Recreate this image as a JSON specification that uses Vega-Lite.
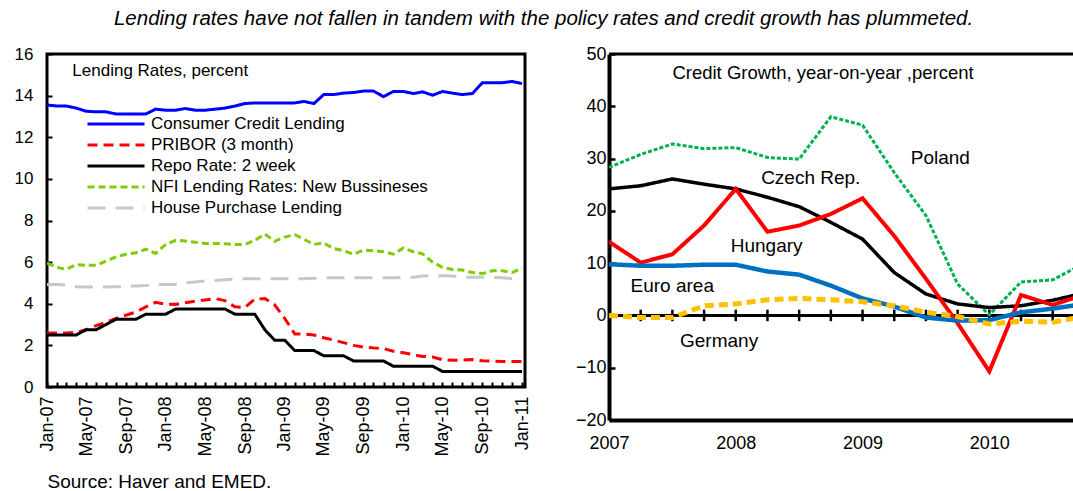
{
  "$schema": "https://vega.github.io/schema/vega-lite/v6.json",
  "background": "white",
  "padding": {"left": 12, "top": 9, "right": 0, "bottom": 0},
  "title": {"text": "Lending rates have not fallen in tandem with the policy rates and credit growth has plummeted.", "fontStyle": "italic", "fontWeight": "normal", "fontSize": 20.5, "font": "Liberation Sans", "anchor": "middle", "offset": 14, "color": "black"},
  "datasets": {
    "rates": [
      {"date":"2007-01-01","Consumer Credit Lending":13.55,"PRIBOR (3 month)":2.6,"Repo Rate: 2 week":2.5,"NFI Lending Rates: New Bussineses":5.95,"House Purchase Lending":4.92},
      {"date":"2007-02-01","Consumer Credit Lending":13.5,"PRIBOR (3 month)":2.6,"Repo Rate: 2 week":2.5,"NFI Lending Rates: New Bussineses":5.75,"House Purchase Lending":4.92},
      {"date":"2007-03-01","Consumer Credit Lending":13.5,"PRIBOR (3 month)":2.6,"Repo Rate: 2 week":2.5,"NFI Lending Rates: New Bussineses":5.65,"House Purchase Lending":4.9},
      {"date":"2007-04-01","Consumer Credit Lending":13.4,"PRIBOR (3 month)":2.62,"Repo Rate: 2 week":2.5,"NFI Lending Rates: New Bussineses":5.88,"House Purchase Lending":4.82},
      {"date":"2007-05-01","Consumer Credit Lending":13.25,"PRIBOR (3 month)":2.75,"Repo Rate: 2 week":2.75,"NFI Lending Rates: New Bussineses":5.85,"House Purchase Lending":4.8},
      {"date":"2007-06-01","Consumer Credit Lending":13.22,"PRIBOR (3 month)":2.95,"Repo Rate: 2 week":2.75,"NFI Lending Rates: New Bussineses":5.85,"House Purchase Lending":4.8},
      {"date":"2007-07-01","Consumer Credit Lending":13.22,"PRIBOR (3 month)":3.1,"Repo Rate: 2 week":3.0,"NFI Lending Rates: New Bussineses":6.05,"House Purchase Lending":4.8},
      {"date":"2007-08-01","Consumer Credit Lending":13.12,"PRIBOR (3 month)":3.3,"Repo Rate: 2 week":3.25,"NFI Lending Rates: New Bussineses":6.25,"House Purchase Lending":4.82},
      {"date":"2007-09-01","Consumer Credit Lending":13.12,"PRIBOR (3 month)":3.45,"Repo Rate: 2 week":3.25,"NFI Lending Rates: New Bussineses":6.38,"House Purchase Lending":4.85},
      {"date":"2007-10-01","Consumer Credit Lending":13.12,"PRIBOR (3 month)":3.6,"Repo Rate: 2 week":3.25,"NFI Lending Rates: New Bussineses":6.45,"House Purchase Lending":4.85},
      {"date":"2007-11-01","Consumer Credit Lending":13.12,"PRIBOR (3 month)":3.85,"Repo Rate: 2 week":3.5,"NFI Lending Rates: New Bussineses":6.62,"House Purchase Lending":4.88},
      {"date":"2007-12-01","Consumer Credit Lending":13.35,"PRIBOR (3 month)":4.07,"Repo Rate: 2 week":3.5,"NFI Lending Rates: New Bussineses":6.42,"House Purchase Lending":4.92},
      {"date":"2008-01-01","Consumer Credit Lending":13.3,"PRIBOR (3 month)":3.98,"Repo Rate: 2 week":3.5,"NFI Lending Rates: New Bussineses":6.85,"House Purchase Lending":4.92},
      {"date":"2008-02-01","Consumer Credit Lending":13.3,"PRIBOR (3 month)":3.97,"Repo Rate: 2 week":3.75,"NFI Lending Rates: New Bussineses":7.05,"House Purchase Lending":4.93},
      {"date":"2008-03-01","Consumer Credit Lending":13.38,"PRIBOR (3 month)":4.05,"Repo Rate: 2 week":3.75,"NFI Lending Rates: New Bussineses":7.02,"House Purchase Lending":5.0},
      {"date":"2008-04-01","Consumer Credit Lending":13.3,"PRIBOR (3 month)":4.12,"Repo Rate: 2 week":3.75,"NFI Lending Rates: New Bussineses":6.95,"House Purchase Lending":5.05},
      {"date":"2008-05-01","Consumer Credit Lending":13.3,"PRIBOR (3 month)":4.18,"Repo Rate: 2 week":3.75,"NFI Lending Rates: New Bussineses":6.9,"House Purchase Lending":5.1},
      {"date":"2008-06-01","Consumer Credit Lending":13.35,"PRIBOR (3 month)":4.25,"Repo Rate: 2 week":3.75,"NFI Lending Rates: New Bussineses":6.9,"House Purchase Lending":5.12},
      {"date":"2008-07-01","Consumer Credit Lending":13.4,"PRIBOR (3 month)":4.15,"Repo Rate: 2 week":3.75,"NFI Lending Rates: New Bussineses":6.88,"House Purchase Lending":5.15},
      {"date":"2008-08-01","Consumer Credit Lending":13.5,"PRIBOR (3 month)":3.85,"Repo Rate: 2 week":3.5,"NFI Lending Rates: New Bussineses":6.85,"House Purchase Lending":5.18},
      {"date":"2008-09-01","Consumer Credit Lending":13.62,"PRIBOR (3 month)":3.82,"Repo Rate: 2 week":3.5,"NFI Lending Rates: New Bussineses":6.85,"House Purchase Lending":5.2},
      {"date":"2008-10-01","Consumer Credit Lending":13.65,"PRIBOR (3 month)":4.22,"Repo Rate: 2 week":3.5,"NFI Lending Rates: New Bussineses":7.05,"House Purchase Lending":5.2},
      {"date":"2008-11-01","Consumer Credit Lending":13.65,"PRIBOR (3 month)":4.25,"Repo Rate: 2 week":2.75,"NFI Lending Rates: New Bussineses":7.35,"House Purchase Lending":5.2},
      {"date":"2008-12-01","Consumer Credit Lending":13.65,"PRIBOR (3 month)":3.95,"Repo Rate: 2 week":2.25,"NFI Lending Rates: New Bussineses":7.0,"House Purchase Lending":5.2},
      {"date":"2009-01-01","Consumer Credit Lending":13.65,"PRIBOR (3 month)":3.3,"Repo Rate: 2 week":2.25,"NFI Lending Rates: New Bussineses":7.2,"House Purchase Lending":5.2},
      {"date":"2009-02-01","Consumer Credit Lending":13.65,"PRIBOR (3 month)":2.55,"Repo Rate: 2 week":1.75,"NFI Lending Rates: New Bussineses":7.32,"House Purchase Lending":5.2},
      {"date":"2009-03-01","Consumer Credit Lending":13.72,"PRIBOR (3 month)":2.55,"Repo Rate: 2 week":1.75,"NFI Lending Rates: New Bussineses":7.1,"House Purchase Lending":5.2},
      {"date":"2009-04-01","Consumer Credit Lending":13.62,"PRIBOR (3 month)":2.5,"Repo Rate: 2 week":1.75,"NFI Lending Rates: New Bussineses":6.85,"House Purchase Lending":5.22},
      {"date":"2009-05-01","Consumer Credit Lending":14.05,"PRIBOR (3 month)":2.37,"Repo Rate: 2 week":1.5,"NFI Lending Rates: New Bussineses":6.92,"House Purchase Lending":5.25},
      {"date":"2009-06-01","Consumer Credit Lending":14.05,"PRIBOR (3 month)":2.25,"Repo Rate: 2 week":1.5,"NFI Lending Rates: New Bussineses":6.65,"House Purchase Lending":5.25},
      {"date":"2009-07-01","Consumer Credit Lending":14.12,"PRIBOR (3 month)":2.13,"Repo Rate: 2 week":1.5,"NFI Lending Rates: New Bussineses":6.55,"House Purchase Lending":5.25},
      {"date":"2009-08-01","Consumer Credit Lending":14.15,"PRIBOR (3 month)":2.0,"Repo Rate: 2 week":1.25,"NFI Lending Rates: New Bussineses":6.38,"House Purchase Lending":5.25},
      {"date":"2009-09-01","Consumer Credit Lending":14.22,"PRIBOR (3 month)":1.92,"Repo Rate: 2 week":1.25,"NFI Lending Rates: New Bussineses":6.58,"House Purchase Lending":5.25},
      {"date":"2009-10-01","Consumer Credit Lending":14.22,"PRIBOR (3 month)":1.88,"Repo Rate: 2 week":1.25,"NFI Lending Rates: New Bussineses":6.55,"House Purchase Lending":5.25},
      {"date":"2009-11-01","Consumer Credit Lending":13.95,"PRIBOR (3 month)":1.85,"Repo Rate: 2 week":1.25,"NFI Lending Rates: New Bussineses":6.5,"House Purchase Lending":5.25},
      {"date":"2009-12-01","Consumer Credit Lending":14.2,"PRIBOR (3 month)":1.72,"Repo Rate: 2 week":1.0,"NFI Lending Rates: New Bussineses":6.38,"House Purchase Lending":5.25},
      {"date":"2010-01-01","Consumer Credit Lending":14.2,"PRIBOR (3 month)":1.65,"Repo Rate: 2 week":1.0,"NFI Lending Rates: New Bussineses":6.68,"House Purchase Lending":5.27},
      {"date":"2010-02-01","Consumer Credit Lending":14.1,"PRIBOR (3 month)":1.55,"Repo Rate: 2 week":1.0,"NFI Lending Rates: New Bussineses":6.5,"House Purchase Lending":5.27},
      {"date":"2010-03-01","Consumer Credit Lending":14.18,"PRIBOR (3 month)":1.47,"Repo Rate: 2 week":1.0,"NFI Lending Rates: New Bussineses":6.4,"House Purchase Lending":5.33},
      {"date":"2010-04-01","Consumer Credit Lending":14.02,"PRIBOR (3 month)":1.44,"Repo Rate: 2 week":1.0,"NFI Lending Rates: New Bussineses":6.0,"House Purchase Lending":5.35},
      {"date":"2010-05-01","Consumer Credit Lending":14.2,"PRIBOR (3 month)":1.31,"Repo Rate: 2 week":0.75,"NFI Lending Rates: New Bussineses":5.75,"House Purchase Lending":5.35},
      {"date":"2010-06-01","Consumer Credit Lending":14.12,"PRIBOR (3 month)":1.28,"Repo Rate: 2 week":0.75,"NFI Lending Rates: New Bussineses":5.65,"House Purchase Lending":5.33},
      {"date":"2010-07-01","Consumer Credit Lending":14.05,"PRIBOR (3 month)":1.29,"Repo Rate: 2 week":0.75,"NFI Lending Rates: New Bussineses":5.62,"House Purchase Lending":5.28},
      {"date":"2010-08-01","Consumer Credit Lending":14.1,"PRIBOR (3 month)":1.32,"Repo Rate: 2 week":0.75,"NFI Lending Rates: New Bussineses":5.5,"House Purchase Lending":5.27},
      {"date":"2010-09-01","Consumer Credit Lending":14.62,"PRIBOR (3 month)":1.26,"Repo Rate: 2 week":0.75,"NFI Lending Rates: New Bussineses":5.45,"House Purchase Lending":5.27},
      {"date":"2010-10-01","Consumer Credit Lending":14.62,"PRIBOR (3 month)":1.24,"Repo Rate: 2 week":0.75,"NFI Lending Rates: New Bussineses":5.58,"House Purchase Lending":5.27},
      {"date":"2010-11-01","Consumer Credit Lending":14.62,"PRIBOR (3 month)":1.23,"Repo Rate: 2 week":0.75,"NFI Lending Rates: New Bussineses":5.58,"House Purchase Lending":5.25},
      {"date":"2010-12-01","Consumer Credit Lending":14.68,"PRIBOR (3 month)":1.22,"Repo Rate: 2 week":0.75,"NFI Lending Rates: New Bussineses":5.5,"House Purchase Lending":5.2},
      {"date":"2011-01-01","Consumer Credit Lending":14.58,"PRIBOR (3 month)":1.22,"Repo Rate: 2 week":0.75,"NFI Lending Rates: New Bussineses":5.7,"House Purchase Lending":5.15}
    ],
    "credit": [
      {"t":2007.0,"Poland":28.3,"Czech":24.2,"Hungary":14.1,"Euro area":9.8,"Germany":0.0},
      {"t":2007.25,"Poland":30.8,"Czech":24.8,"Hungary":10.1,"Euro area":9.5,"Germany":-0.4},
      {"t":2007.5,"Poland":32.8,"Czech":26.1,"Hungary":11.7,"Euro area":9.5,"Germany":-0.4},
      {"t":2007.75,"Poland":31.9,"Czech":25.1,"Hungary":17.2,"Euro area":9.7,"Germany":1.85},
      {"t":2008.0,"Poland":32.1,"Czech":24.2,"Hungary":24.2,"Euro area":9.7,"Germany":2.2},
      {"t":2008.25,"Poland":30.2,"Czech":22.6,"Hungary":16.0,"Euro area":8.4,"Germany":3.0},
      {"t":2008.5,"Poland":29.9,"Czech":20.8,"Hungary":17.2,"Euro area":7.8,"Germany":3.25},
      {"t":2008.75,"Poland":38.0,"Czech":17.8,"Hungary":19.4,"Euro area":5.7,"Germany":3.0},
      {"t":2009.0,"Poland":36.4,"Czech":14.6,"Hungary":22.4,"Euro area":3.25,"Germany":2.6},
      {"t":2009.25,"Poland":27.3,"Czech":8.2,"Hungary":15.2,"Euro area":1.7,"Germany":1.85},
      {"t":2009.5,"Poland":19.1,"Czech":4.1,"Hungary":7.0,"Euro area":-0.4,"Germany":0.6},
      {"t":2009.75,"Poland":6.0,"Czech":2.2,"Hungary":-1.5,"Euro area":-1.0,"Germany":-0.2},
      {"t":2010.0,"Poland":0.1,"Czech":1.5,"Hungary":-10.7,"Euro area":-0.9,"Germany":-1.65},
      {"t":2010.25,"Poland":6.4,"Czech":1.85,"Hungary":3.9,"Euro area":0.6,"Germany":-1.1},
      {"t":2010.5,"Poland":6.8,"Czech":2.9,"Hungary":2.0,"Euro area":1.3,"Germany":-1.3},
      {"t":2010.75,"Poland":10.0,"Czech":4.3,"Hungary":4.0,"Euro area":2.2,"Germany":-0.2}
    ],
    "quarters": [
      {"q":2007.25},{"q":2007.5},{"q":2007.75},{"q":2008.0},{"q":2008.25},{"q":2008.5},{"q":2008.75},
      {"q":2009.0},{"q":2009.25},{"q":2009.5},{"q":2009.75},{"q":2010.0},{"q":2010.25},{"q":2010.5}
    ]
  },
  "spacing": 84,
  "bounds": "flush",
  "resolve": {"scale": {"color": "independent", "strokeDash": "independent", "strokeWidth": "independent"}},
  "hconcat": [
    {
      "width": 478,
      "height": 333,
      "view": {"stroke": "black", "strokeWidth": 3},
      "layer": [
        {
          "data": {"name": "rates"},
          "transform": [{"fold": ["Consumer Credit Lending","PRIBOR (3 month)","Repo Rate: 2 week","NFI Lending Rates: New Bussineses","House Purchase Lending"], "as": ["series","value"]}],
          "mark": {"type": "line", "clip": true, "strokeCap": "butt"},
          "encoding": {
            "x": {"field": "date", "type": "temporal",
                  "scale": {"type": "utc", "domain": [{"year":2007,"month":1,"date":1,"utc":true},{"year":2011,"month":1,"date":10,"utc":true}]},
                  "axis": {"tickCount": {"interval": "month", "step": 1}, "labelExpr": "utcmonth(datum.value) % 4 == 0 ? utcFormat(datum.value, '%b-%y') : ''",
                           "labelAngle": -90, "labelAlign": "right", "labelBaseline": "middle", "labelFontSize": 18, "labelOverlap": false, "labelFlush": false, "labelBound": false,
                           "tickSize": -5, "tickWidth": 2, "domain": false, "labelPadding": 14,
                           "title": "Source: Haver and EMED.", "titleAnchor": "start", "titleAlign": "left", "titleFontSize": 19, "titleFontWeight": "normal", "titlePadding": 16, "titleColor": "black"}},
            "y": {"field": "value", "type": "quantitative", "scale": {"domain": [0, 16], "nice": false},
                  "axis": {"values": [0,2,4,6,8,10,12,14,16], "labelFontSize": 17, "tickSize": -5, "tickWidth": 2, "domain": false, "labelPadding": 19, "title": null}},
            "color": {"field": "series", "type": "nominal",
                      "scale": {"domain": ["Consumer Credit Lending","PRIBOR (3 month)","Repo Rate: 2 week","NFI Lending Rates: New Bussineses","House Purchase Lending"],
                                "range": ["#0000FF","#FF0000","#000000","#7FCC00","#C8C8C8"]},
                      "legend": {"orient": "none", "legendX": 39, "legendY": 62, "title": null, "symbolType": "stroke", "symbolSize": 3249, "symbolStrokeWidth": 3,
                                 "labelFontSize": 17, "labelFont": "Liberation Sans", "labelColor": "black", "clipHeight": 16, "rowPadding": 4, "labelOffset": 5, "padding": 0, "labelLimit": 400}},
            "strokeDash": {"field": "series", "type": "nominal",
                           "scale": {"domain": ["Consumer Credit Lending","PRIBOR (3 month)","Repo Rate: 2 week","NFI Lending Rates: New Bussineses","House Purchase Lending"],
                                     "range": [[1,0],[10,6],[1,0],[7,4],[18,10]]}},
            "strokeWidth": {"field": "series", "type": "nominal",
                            "scale": {"domain": ["Consumer Credit Lending","PRIBOR (3 month)","Repo Rate: 2 week","NFI Lending Rates: New Bussineses","House Purchase Lending"],
                                      "range": [3,3,3,5,4]}}
          }
        },
        {
          "data": {"values": [{}]},
          "mark": {"type": "text", "text": "Lending Rates, percent", "align": "left", "baseline": "middle", "fontSize": 17},
          "encoding": {"x": {"datum": {"year":2007,"month":3,"date":20,"utc":true}, "type": "temporal"}, "y": {"datum": 15.2, "type": "quantitative"}}
        }
      ]
    },
    {
      "width": 464,
      "height": 366,
      "layer": [
        {
          "data": {"values": [{}]},
          "mark": {"type": "rule", "strokeWidth": 3, "color": "black"},
          "encoding": {"y": {"datum": 0, "type": "quantitative"}}
        },
        {
          "data": {"values": [{}]},
          "mark": {"type": "rule", "strokeWidth": 3, "color": "black"},
          "encoding": {"y": {"datum": 50, "type": "quantitative"}}
        },
        {
          "data": {"name": "quarters"},
          "mark": {"type": "rule", "strokeWidth": 2.5, "color": "black"},
          "encoding": {"x": {"field": "q", "type": "quantitative"}, "y": {"datum": -1.1, "type": "quantitative"}, "y2": {"datum": 1.1}}
        },
        {
          "data": {"name": "credit"},
          "transform": [{"fold": ["Poland","Czech","Hungary","Euro area","Germany"], "as": ["country","growth"]}],
          "mark": {"type": "line", "clip": true, "strokeCap": "butt"},
          "encoding": {
            "x": {"field": "t", "type": "quantitative", "scale": {"domain": [2007, 2010.66], "nice": false, "zero": false},
                  "axis": {"values": [2007,2008,2009,2010], "format": "d", "ticks": false, "domainWidth": 4, "labelFontSize": 18, "labelPadding": 14, "labelFlush": false, "labelBound": false, "title": null}},
            "y": {"field": "growth", "type": "quantitative", "scale": {"domain": [-20, 50], "nice": false, "zero": false},
                  "axis": {"values": [-20,-10,0,10,20,30,40,50], "domainWidth": 4, "tickSize": -6, "tickWidth": 2.5, "labelFontSize": 18, "labelPadding": 9, "title": null}},
            "color": {"field": "country", "type": "nominal", "legend": null,
                      "scale": {"domain": ["Poland","Czech","Hungary","Euro area","Germany"], "range": ["#00B050","#000000","#FF0000","#0070C0","#FFC000"]}},
            "strokeDash": {"field": "country", "type": "nominal", "legend": null,
                           "scale": {"domain": ["Poland","Czech","Hungary","Euro area","Germany"], "range": [[4,2],[1,0],[1,0],[1,0],[9,5]]}},
            "strokeWidth": {"field": "country", "type": "nominal", "legend": null,
                            "scale": {"domain": ["Poland","Czech","Hungary","Euro area","Germany"], "range": [3,5,3,3,3]}}
          }
        },
        {"data": {"values": [{}]},
         "mark": {"type": "text", "text": "Credit Growth, year-on-year ,percent", "align": "left", "baseline": "middle", "fontSize": 18.5},
         "encoding": {"x": {"datum": 2007.5, "type": "quantitative"}, "y": {"datum": 46.3, "type": "quantitative"}}},
        {"data": {"values": [{}]},
         "mark": {"type": "text", "text": "Poland", "align": "left", "baseline": "middle", "fontSize": 19},
         "encoding": {"x": {"datum": 2009.38, "type": "quantitative"}, "y": {"datum": 30.2, "type": "quantitative"}}},
        {"data": {"values": [{}]},
         "mark": {"type": "text", "text": "Czech Rep.", "align": "left", "baseline": "middle", "fontSize": 19},
         "encoding": {"x": {"datum": 2008.2, "type": "quantitative"}, "y": {"datum": 26.2, "type": "quantitative"}}},
        {"data": {"values": [{}]},
         "mark": {"type": "text", "text": "Hungary", "align": "left", "baseline": "middle", "fontSize": 19},
         "encoding": {"x": {"datum": 2007.96, "type": "quantitative"}, "y": {"datum": 13.2, "type": "quantitative"}}},
        {"data": {"values": [{}]},
         "mark": {"type": "text", "text": "Euro area", "align": "left", "baseline": "middle", "fontSize": 19},
         "encoding": {"x": {"datum": 2007.17, "type": "quantitative"}, "y": {"datum": 5.7, "type": "quantitative"}}},
        {"data": {"values": [{}]},
         "mark": {"type": "text", "text": "Germany", "align": "left", "baseline": "middle", "fontSize": 19},
         "encoding": {"x": {"datum": 2007.56, "type": "quantitative"}, "y": {"datum": -4.8, "type": "quantitative"}}}
      ]
    }
  ],
  "config": {
    "font": "Liberation Sans",
    "view": {"stroke": null},
    "axis": {"grid": false, "labelColor": "black", "domainColor": "black", "tickColor": "black", "labelFont": "Liberation Sans", "titleFont": "Liberation Sans"},
    "text": {"font": "Liberation Sans", "color": "black"}
  }
}
